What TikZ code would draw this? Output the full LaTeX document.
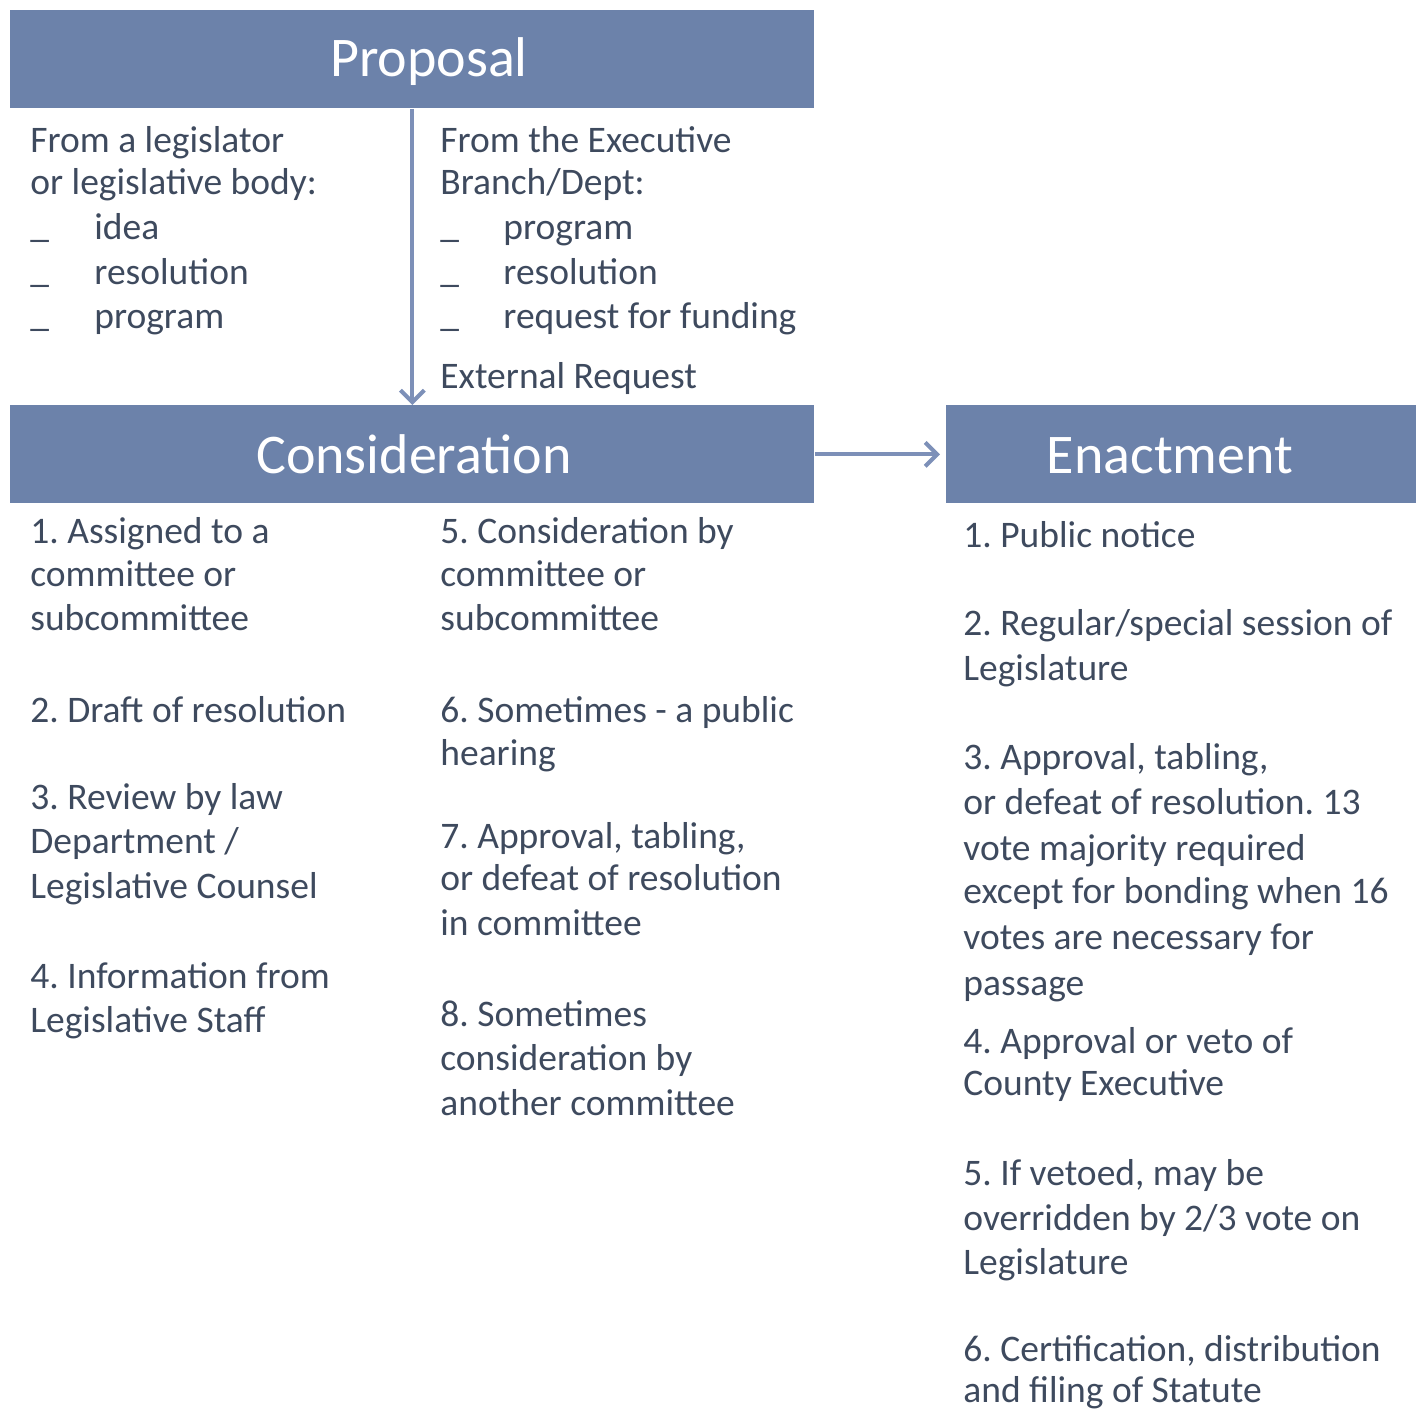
\documentclass[tikz,border=0pt]{standalone}
\usepackage{fontspec}
\setmainfont{Carlito}
\usetikzlibrary{arrows.meta}
\frenchspacing
\definecolor{hdrfill}{RGB}{108,130,170}
\definecolor{bodytext}{RGB}{62,74,94}
\definecolor{arrcol}{RGB}{125,144,184}
\tikzset{
  hdrbox/.style={fill=hdrfill, draw=none, anchor=north west, inner sep=0pt},
  hdrtext/.style={text=white, font=\fontsize{28}{32}\selectfont, inner sep=0pt, anchor=base},
  txt/.style={text=bodytext, font=\fontsize{18.75}{22}\selectfont, inner sep=0pt, anchor=base west},
  flow/.style={draw=arrcol, line width=2pt, -{Straight Barb[length=6pt,width=12pt,line width=2pt]}}
}
\newcommand\tl[4]{\node[txt] (#1) at (#2,#3+4) {#4};}
\begin{document}
\begin{tikzpicture}[x=0.5pt,y=-0.5pt]
\useasboundingbox (0,0) rectangle (1421,1412);
% header boxes
\node[hdrbox, minimum width=402pt, minimum height=49pt] (prop) at (10,10) {};
\node[hdrbox, minimum width=402pt, minimum height=49pt] (cons) at (10,405) {};
\node[hdrbox, minimum width=235pt, minimum height=49pt] (enac) at (946,405) {};
\node[hdrtext] (propt) at (429,77) {Proposal};
\node[hdrtext] (const) at (414,474) {Consideration};
\node[hdrtext] (enact) at (1170,474) {Enactment};
% connectors
\draw[flow] (prop.south) -- (cons.north);
\draw[flow, shorten >=3pt] (cons.east) -- (enac.west);
% Proposal left
\tl{pl1}{30}{149}{From a legislator}
\tl{pl2}{30}{191}{or legislative body:}
\tl{plb1}{30}{234}{\_}\tl{pl3}{94}{236}{idea}
\tl{plb2}{30}{279}{\_}\tl{pl4}{94}{281}{resolution}
\tl{plb3}{30}{323}{\_}\tl{pl5}{94}{325}{program}
% Proposal right
\tl{pr1}{440}{149}{From the Executive}
\tl{pr2}{440}{191}{Branch/Dept:}
\tl{prb1}{440}{234}{\_}\tl{pr3}{503}{236}{program}
\tl{prb2}{440}{279}{\_}\tl{pr4}{503}{281}{resolution}
\tl{prb3}{440}{323}{\_}\tl{pr5}{503}{325}{request for funding}
\tl{pr6}{440}{385}{External Request}
% Consideration left
\tl{cl1}{30}{540}{1. Assigned to a}
\tl{cl2}{30}{583}{committee or}
\tl{cl3}{30}{627}{subcommittee}
\tl{cl4}{30}{718}{2. Draft of resolution}
\tl{cl5}{30}{805}{3. Review by law}
\tl{cl6}{30}{849}{Department /}
\tl{cl7}{30}{894}{Legislative Counsel}
\tl{cl8}{30}{984}{4. Information from}
\tl{cl9}{30}{1028}{Legislative Staff}
% Consideration right
\tl{cr1}{440}{540}{5. Consideration by}
\tl{cr2}{440}{583}{committee or}
\tl{cr3}{440}{627}{subcommittee}
\tl{cr4}{440}{718}{6. Sometimes - a public}
\tl{cr5}{440}{761}{hearing}
\tl{cr6}{440}{844}{7. Approval, tabling,}
\tl{cr7}{440}{886}{or defeat of resolution}
\tl{cr8}{440}{931}{in committee}
\tl{cr9}{440}{1022}{8. Sometimes}
\tl{cr10}{440}{1066}{consideration by}
\tl{cr11}{440}{1111}{another committee}
% Enactment
\tl{e1}{963}{544}{1. Public notice}
\tl{e2}{963}{631}{2. Regular/special session of}
\tl{e3}{963}{676}{Legislature}
\tl{e4}{963}{765}{3. Approval, tabling,}
\tl{e5}{963}{810}{or defeat of resolution. 13}
\tl{e6}{963}{856}{vote majority required}
\tl{e7}{963}{899}{except for bonding when 16}
\tl{e8}{963}{945}{votes are necessary for}
\tl{e9}{963}{991}{passage}
\tl{e10}{963}{1049}{4. Approval or veto of}
\tl{e11}{963}{1091}{County Executive}
\tl{e12}{963}{1181}{5. If vetoed, may be}
\tl{e13}{963}{1226}{overridden by 2/3 vote on}
\tl{e14}{963}{1270}{Legislature}
\tl{e15}{963}{1357}{6. Certification, distribution}
\tl{e16}{963}{1398}{and filing of Statute}
\end{tikzpicture}
\end{document}
